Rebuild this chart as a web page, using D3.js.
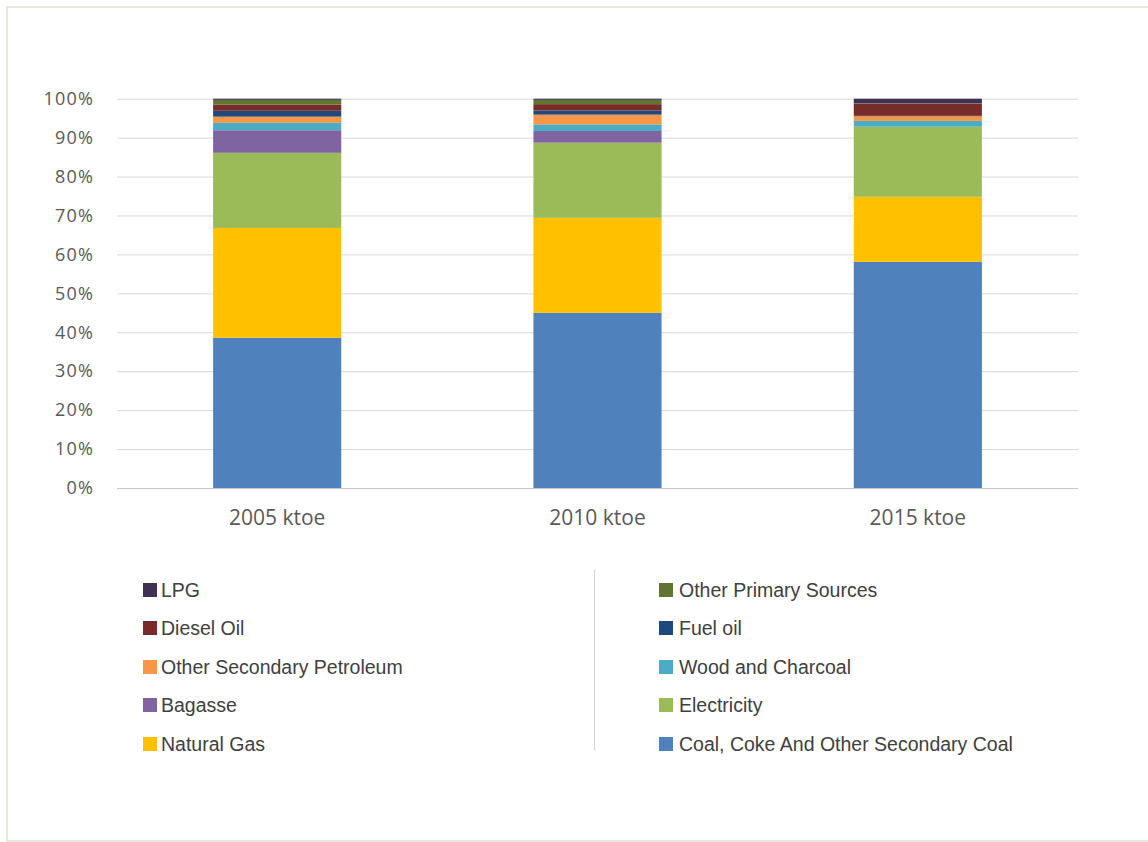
<!DOCTYPE html>
<html><head><meta charset="utf-8">
<script src="https://cdn.jsdelivr.net/npm/d3@7"></script>
<style>body{margin:0;background:#fff;}svg{display:block;}</style>
</head><body>
<svg id="c" width="1148" height="842"></svg>
<script>
const categories = ["2005 ktoe", "2010 ktoe", "2015 ktoe"];
const seriesNames = ["Coal, Coke And Other Secondary Coal", "Natural Gas", "Electricity", "Bagasse", "Wood and Charcoal", "Other Secondary Petroleum", "Fuel oil", "Diesel Oil", "Other Primary Sources", "LPG"];
const seriesColors = ["#4f81bd", "#ffc000", "#9bbb59", "#8064a2", "#4bacc6", "#f79646", "#1f497d", "#772c2a", "#5f7530", "#403152"];
const coal = [38.6, 45.0, 58.1];
const naturalGas = [28.2, 24.4, 16.7];
const electricity = [19.3, 19.3, 18.0];
const bagasse = [5.8, 3.0, 0.0];
const wood = [1.9, 1.7, 1.5];
const otherSecPetroleum = [1.6, 2.5, 1.2];
const fuelOil = [1.5, 1.1, 0.1];
const diesel = [1.6, 1.6, 3.1];
const otherPrimary = [1.2, 1.1, 0.1];
const lpg = [0.3, 0.3, 1.2];
const yTicks = [0, 10, 20, 30, 40, 50, 60, 70, 80, 90, 100];
const legendLeft = ["LPG", "Diesel Oil", "Other Secondary Petroleum", "Bagasse", "Natural Gas"];
const legendRight = ["Other Primary Sources", "Fuel oil", "Wood and Charcoal", "Electricity", "Coal, Coke And Other Secondary Coal"];

const values = [coal, naturalGas, electricity, bagasse, wood, otherSecPetroleum, fuelOil, diesel, otherPrimary, lpg];
const rows = categories.map((c, i) => {
  const r = {cat: c};
  seriesNames.forEach((s, j) => r[s] = values[j][i]);
  return r;
});
const stack = d3.stack().keys(seriesNames)
  .offset(d3.stackOffsetExpand)(rows);
const color = d3.scaleOrdinal().domain(seriesNames).range(seriesColors);

const svg = d3.select("#c");
svg.append("rect").attr("x", 7).attr("y", 7).attr("width", 1150).attr("height", 834)
  .attr("fill", "#fff").attr("stroke", "#e9e8dc").attr("stroke-width", 2);

const x = d3.scaleBand().domain(categories).range([117, 1078]).paddingInner(0.6).paddingOuter(0.3);
const y = d3.scaleLinear().domain([0, 1]).range([488, 98.7]);

const g = svg.append("g");
// gridlines
g.selectAll("line.grid").data(yTicks).join("line")
  .attr("x1", 117).attr("x2", 1078)
  .attr("y1", d => y(d / 100) + 0.5).attr("y2", d => y(d / 100) + 0.5)
  .attr("stroke", d => d === 0 ? "#c8c8c8" : "#d9d9d9").attr("stroke-width", 1);

// y axis labels
const yAxis = d3.axisLeft(y).tickValues(yTicks.map(d => d / 100))
  .tickFormat(d => Math.round(d * 100) + "%").tickSize(0).tickPadding(0);
const ya = svg.append("g").attr("transform", "translate(94,0)").call(yAxis);
ya.select(".domain").remove();
ya.selectAll("text").attr("font-family", "'Open Sans', 'DejaVu Sans', sans-serif").attr("font-size", 18)
  .attr("letter-spacing", 1.2).attr("fill", "#595959");

// bars
g.selectAll("g.s").data(stack).join("g").attr("fill", d => color(d.key))
  .selectAll("rect").data(d => d).join("rect")
  .attr("x", d => x(d.data.cat)).attr("width", x.bandwidth())
  .attr("y", d => y(d[1])).attr("height", d => Math.max(0, y(d[0]) - y(d[1])));

// x axis labels
const xAxis = d3.axisBottom(x).tickSize(0).tickPadding(0);
const xa = svg.append("g").attr("transform", "translate(0,510)").call(xAxis);
xa.select(".domain").remove();
xa.selectAll("text").attr("font-family", "'Open Sans', 'DejaVu Sans', sans-serif").attr("font-size", 21)
  .attr("fill", "#595959");

// legend
const legendY = [590, 628, 667, 705, 744];
function legendCol(names, sx, tx) {
  const lg = svg.append("g");
  names.forEach((n, i) => {
    lg.append("rect").attr("x", sx).attr("y", legendY[i] - 7).attr("width", 14).attr("height", 14).attr("fill", color(n));
    lg.append("text").attr("x", tx).attr("y", legendY[i]).attr("dy", "0.36em")
      .attr("font-family", "'Liberation Sans', Arial, sans-serif").attr("font-size", 19.5)
      .attr("fill", "#404040").text(n);
  });
}
legendCol(legendLeft, 143, 161);
legendCol(legendRight, 659, 679);
svg.append("line").attr("x1", 594.5).attr("x2", 594.5).attr("y1", 570).attr("y2", 750)
  .attr("stroke", "#d0d0d0").attr("stroke-width", 1);
</script>
</body></html>
